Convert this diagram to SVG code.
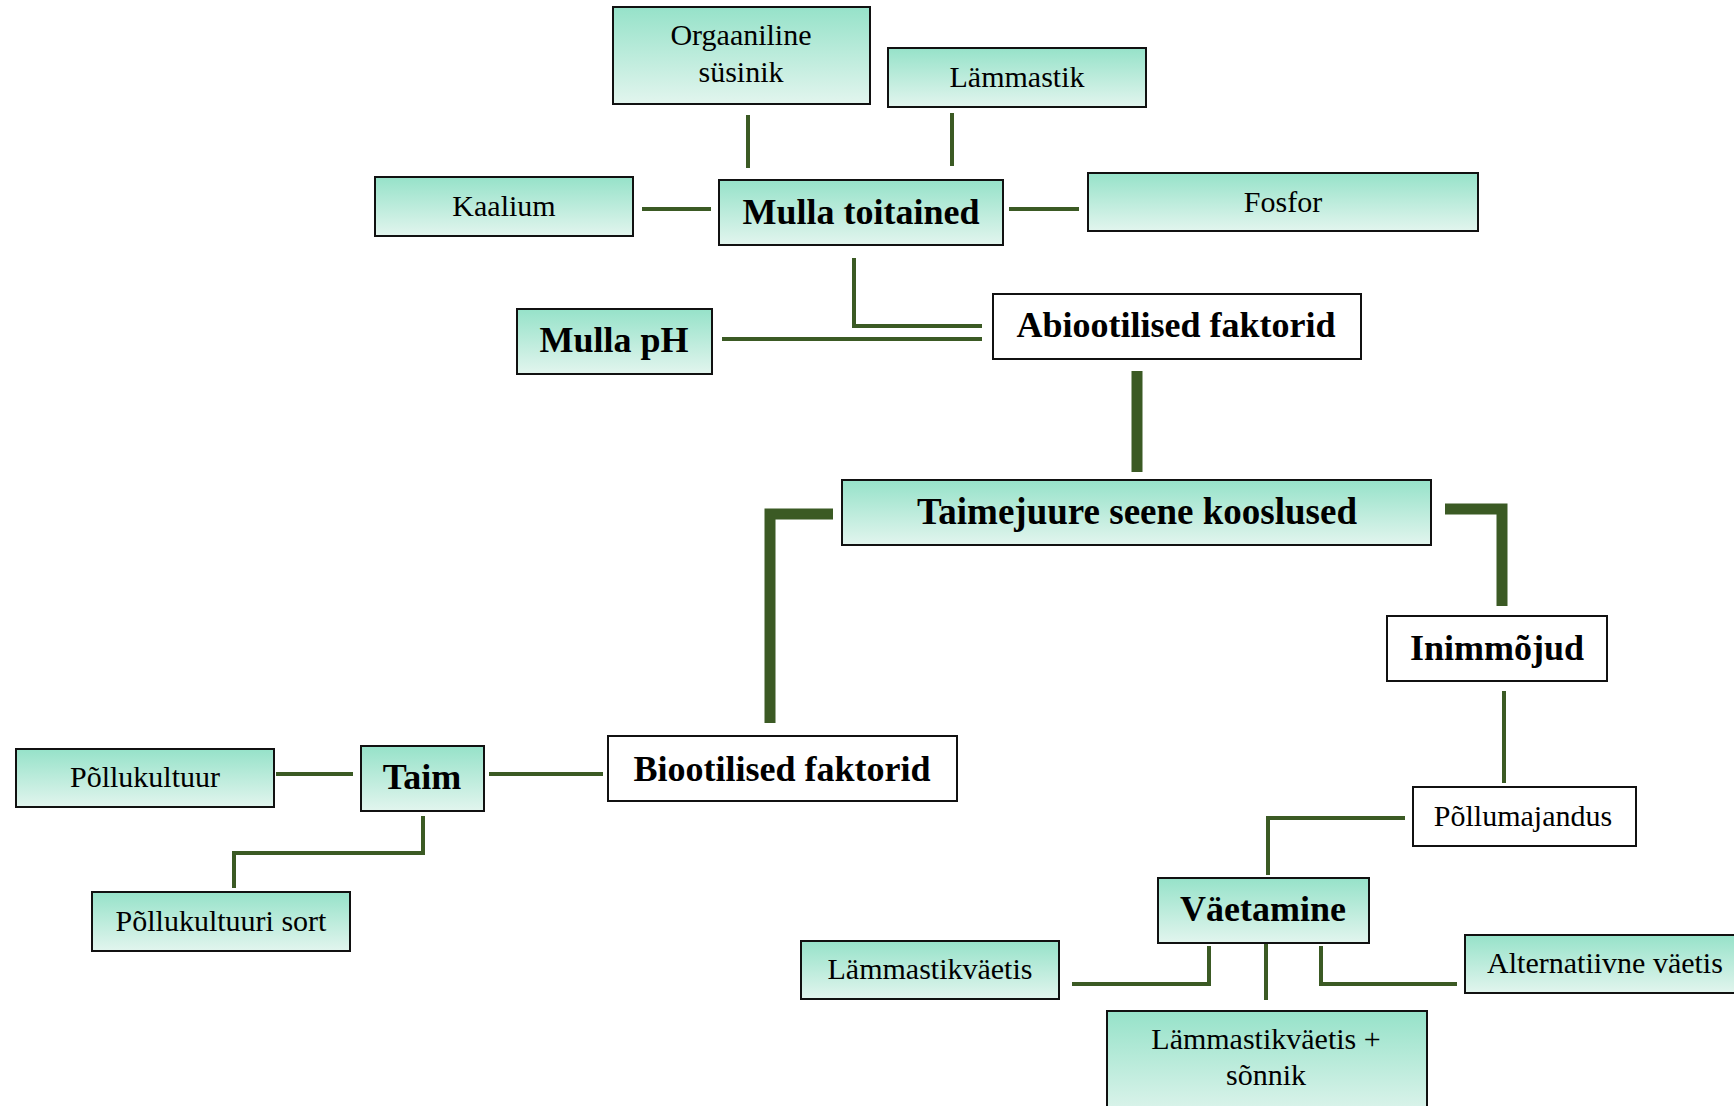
<svg xmlns="http://www.w3.org/2000/svg" width="1734" height="1106" viewBox="0 0 1734 1106">
<defs>
<linearGradient id="mint" x1="0" y1="0" x2="0" y2="1">
<stop offset="0" stop-color="#96e2c9"/>
<stop offset="1" stop-color="#e2f5ee"/>
</linearGradient>
<style>
.g{fill:url(#mint);stroke:#111;stroke-width:2}
.w{fill:#fff;stroke:#111;stroke-width:2}
text{font-family:"Liberation Serif","Times New Roman",serif;fill:#000;text-anchor:middle}
.r{font-size:30px}
.b{font-size:36px;font-weight:bold}
.c{fill:none;stroke:#3b5a24;stroke-width:4}
.t{fill:none;stroke:#3b5a24;stroke-width:11}
</style>
</defs>
<rect width="1734" height="1106" fill="#fff"/>
<g id="connectors">
<line class="c" x1="748" y1="115" x2="748" y2="168"/>
<line class="c" x1="952" y1="113" x2="952" y2="166"/>
<line class="c" x1="642" y1="209" x2="711" y2="209"/>
<line class="c" x1="1009" y1="209" x2="1079" y2="209"/>
<polyline class="c" points="854,258 854,326 982,326"/>
<line class="c" x1="722" y1="339" x2="982" y2="339"/>
<line class="t" x1="1137" y1="371" x2="1137" y2="472"/>
<polyline class="t" points="833,514 770,514 770,723"/>
<polyline class="t" points="1445,509 1502,509 1502,606"/>
<line class="c" x1="276" y1="774" x2="353" y2="774"/>
<line class="c" x1="489" y1="774" x2="603" y2="774"/>
<polyline class="c" points="423,816 423,853 234,853 234,888"/>
<line class="c" x1="1504" y1="691" x2="1504" y2="783"/>
<polyline class="c" points="1405,818 1268,818 1268,875"/>
<polyline class="c" points="1209,946 1209,984 1072,984"/>
<line class="c" x1="1266" y1="944" x2="1266" y2="1000"/>
<polyline class="c" points="1321,946 1321,984 1457,984"/>
</g>
<g id="orgaaniline"><rect class="g" x="613" y="7" width="257" height="97"/><text class="r" x="741" y="45">Orgaaniline</text><text class="r" x="741" y="82">süsinik</text></g>
<g id="lammastik"><rect class="g" x="888" y="48" width="258" height="59"/><text class="r" x="1017" y="87">Lämmastik</text></g>
<g id="kaalium"><rect class="g" x="375" y="177" width="258" height="59"/><text class="r" x="504" y="216">Kaalium</text></g>
<g id="mulla-toitained"><rect class="g" x="719" y="180" width="284" height="65"/><text class="b" x="861" y="224">Mulla toitained</text></g>
<g id="fosfor"><rect class="g" x="1088" y="173" width="390" height="58"/><text class="r" x="1283" y="212">Fosfor</text></g>
<g id="mulla-ph"><rect class="g" x="517" y="309" width="195" height="65"/><text class="b" x="614" y="352">Mulla pH</text></g>
<g id="abiootilised"><rect class="w" x="993" y="294" width="368" height="65"/><text class="b" x="1176" y="337">Abiootilised faktorid</text></g>
<g id="taimejuure"><rect class="g" x="842" y="480" width="589" height="65"/><text class="b" x="1137" y="524" style="font-size:37px">Taimejuure seene kooslused</text></g>
<g id="inimmojud"><rect class="w" x="1387" y="616" width="220" height="65"/><text class="b" x="1497" y="660">Inimmõjud</text></g>
<g id="biootilised"><rect class="w" x="608" y="736" width="349" height="65"/><text class="b" x="782" y="781">Biootilised faktorid</text></g>
<g id="taim"><rect class="g" x="361" y="746" width="123" height="65"/><text class="b" x="422" y="789">Taim</text></g>
<g id="pollukultuur"><rect class="g" x="16" y="749" width="258" height="58"/><text class="r" x="145" y="787">Põllukultuur</text></g>
<g id="pollukultuuri-sort"><rect class="g" x="92" y="892" width="258" height="59"/><text class="r" x="221" y="931">Põllukultuuri sort</text></g>
<g id="pollumajandus"><rect class="w" x="1413" y="787" width="223" height="59"/><text class="r" x="1523" y="826">Põllumajandus</text></g>
<g id="vaetamine"><rect class="g" x="1158" y="878" width="211" height="65"/><text class="b" x="1263" y="921">Väetamine</text></g>
<g id="lammastikvaetis"><rect class="g" x="801" y="941" width="258" height="58"/><text class="r" x="930" y="979">Lämmastikväetis</text></g>
<g id="alternatiivne"><rect class="g" x="1465" y="935" width="280" height="58"/><text class="r" x="1605" y="973">Alternatiivne väetis</text></g>
<g id="lammastikvaetis-sonnik"><rect class="g" x="1107" y="1011" width="320" height="110"/><text class="r" x="1266" y="1049">Lämmastikväetis +</text><text class="r" x="1266" y="1085">sõnnik</text></g>
</svg>
